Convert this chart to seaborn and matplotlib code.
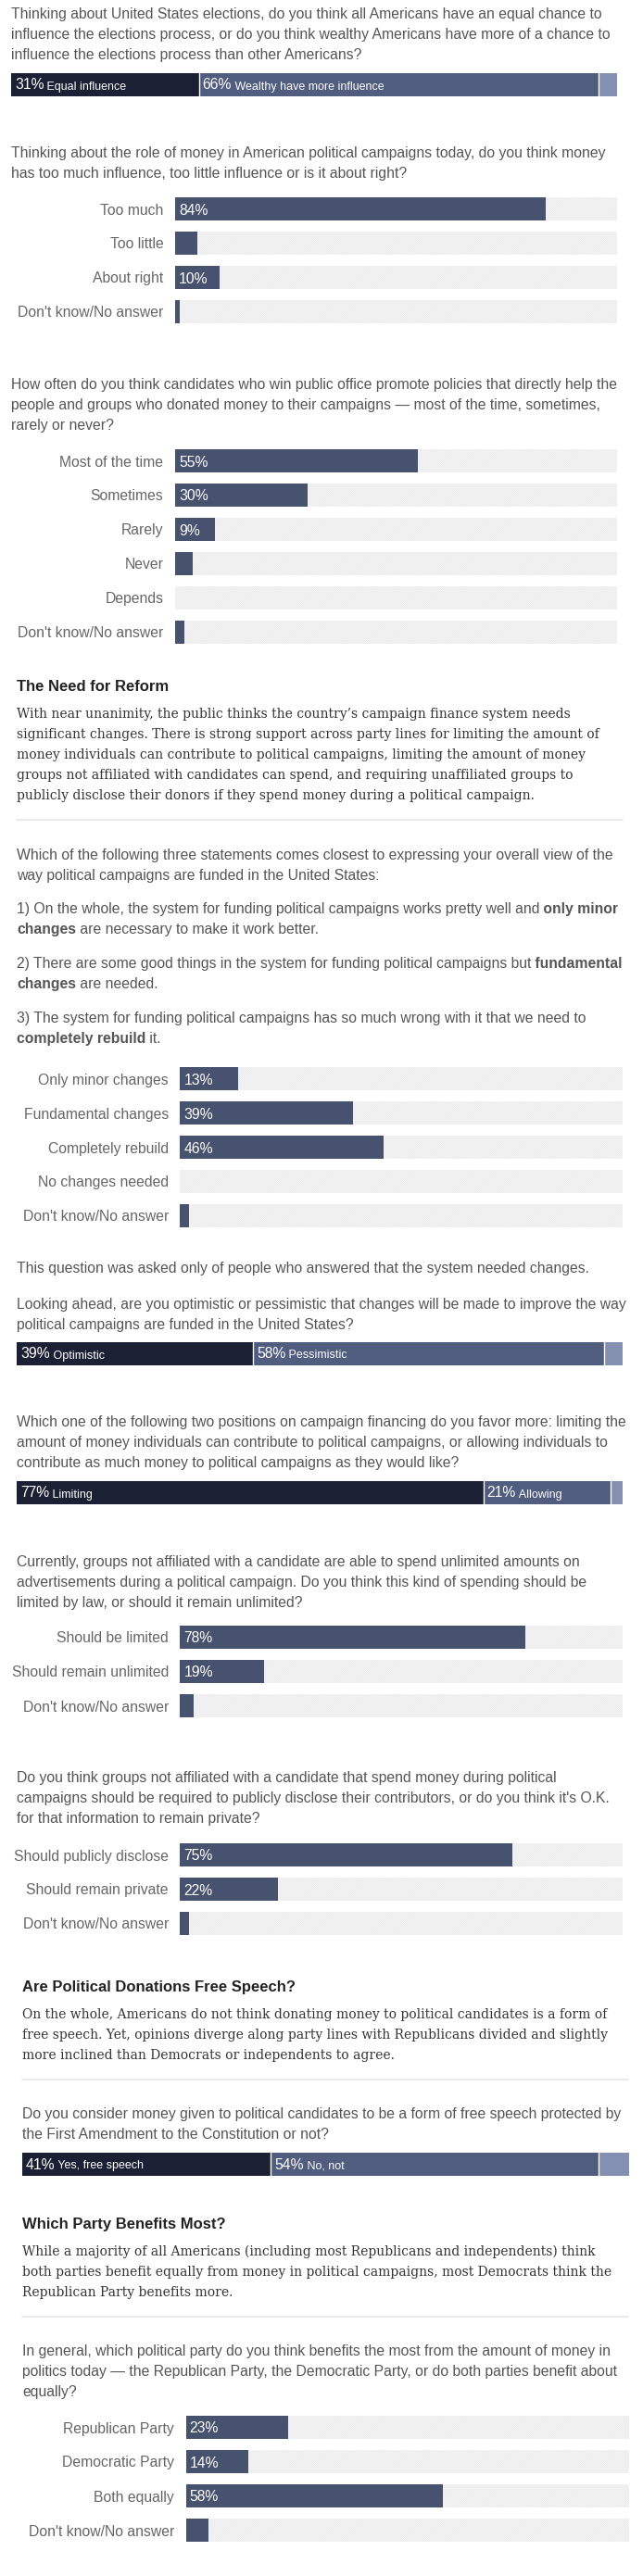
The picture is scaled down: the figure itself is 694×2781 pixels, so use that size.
import matplotlib
matplotlib.use("Agg")
import matplotlib.pyplot as plt
from matplotlib import font_manager
import pandas as pd
import seaborn as sns

W, H = 694, 2781

# ---- survey answers (percent) ----
q1_labels = ["Equal influence", "Wealthy have more influence", ""]
q1_values = [31, 66, 3]

q2_labels = ["Too much", "Too little", "About right", "Don't know/No answer"]
q2_values = [84, 5, 10, 1]

q3_labels = ["Most of the time", "Sometimes", "Rarely", "Never", "Depends",
             "Don't know/No answer"]
q3_values = [55, 30, 9, 4, 0, 2]

q4_labels = ["Only minor changes", "Fundamental changes", "Completely rebuild",
             "No changes needed", "Don't know/No answer"]
q4_values = [13, 39, 46, 0, 2]

q5_labels = ["Optimistic", "Pessimistic", ""]
q5_values = [39, 58, 3]

q6_labels = ["Limiting", "Allowing", ""]
q6_values = [77, 21, 2]

q7_labels = ["Should be limited", "Should remain unlimited", "Don't know/No answer"]
q7_values = [78, 19, 3]

q8_labels = ["Should publicly disclose", "Should remain private", "Don't know/No answer"]
q8_values = [75, 22, 2]

q9_labels = ["Yes, free speech", "No, not", ""]
q9_values = [41, 54, 5]

q10_labels = ["Republican Party", "Democratic Party", "Both equally", "Don't know/No answer"]
q10_values = [23, 14, 58, 5]

# ---- text ----
Q1_TEXT = ["Thinking about United States elections, do you think all Americans have an equal chance to",
           "influence the elections process, or do you think wealthy Americans have more of a chance to",
           "influence the elections process than other Americans?"]
Q2_TEXT = ["Thinking about the role of money in American political campaigns today, do you think money",
           "has too much influence, too little influence or is it about right?"]
Q3_TEXT = ["How often do you think candidates who win public office promote policies that directly help the",
           "people and groups who donated money to their campaigns \u2014 most of the time, sometimes,",
           "rarely or never?"]
HEAD1 = "The Need for Reform"
PARA1 = ["With near unanimity, the public thinks the country\u2019s campaign finance system needs",
         "significant changes. There is strong support across party lines for limiting the amount of",
         "money individuals can contribute to political campaigns, limiting the amount of money",
         "groups not affiliated with candidates can spend, and requiring unaffiliated groups to",
         "publicly disclose their donors if they spend money during a political campaign."]
Q4_TEXT = ["Which of the following three statements comes closest to expressing your overall view of the",
           "way political campaigns are funded in the United States:"]
STATEMENTS = [
    [[("1) On the whole, the system for funding political campaigns works pretty well and", False),
      (" only minor", True)],
     [("changes", True), (" are necessary to make it work better.", False)]],
    [[("2) There are some good things in the system for funding political campaigns but", False),
      (" fundamental", True)],
     [("changes", True), (" are needed.", False)]],
    [[("3) The system for funding political campaigns has so much wrong with it that we need to", False)],
     [("completely rebuild", True), (" it.", False)]],
]
NOTE = "This question was asked only of people who answered that the system needed changes."
Q5_TEXT = ["Looking ahead, are you optimistic or pessimistic that changes will be made to improve the way",
           "political campaigns are funded in the United States?"]
Q6_TEXT = ["Which one of the following two positions on campaign financing do you favor more: limiting the",
           "amount of money individuals can contribute to political campaigns, or allowing individuals to",
           "contribute as much money to political campaigns as they would like?"]
Q7_TEXT = ["Currently, groups not affiliated with a candidate are able to spend unlimited amounts on",
           "advertisements during a political campaign. Do you think this kind of spending should be",
           "limited by law, or should it remain unlimited?"]
Q8_TEXT = ["Do you think groups not affiliated with a candidate that spend money during political",
           "campaigns should be required to publicly disclose their contributors, or do you think it's O.K.",
           "for that information to remain private?"]
HEAD2 = "Are Political Donations Free Speech?"
PARA2 = ["On the whole, Americans do not think donating money to political candidates is a form of",
         "free speech. Yet, opinions diverge along party lines with Republicans divided and slightly",
         "more inclined than Democrats or independents to agree."]
Q9_TEXT = ["Do you consider money given to political candidates to be a form of free speech protected by",
           "the First Amendment to the Constitution or not?"]
HEAD3 = "Which Party Benefits Most?"
PARA3 = ["While a majority of all Americans (including most Republicans and independents) think",
         "both parties benefit equally from money in political campaigns, most Democrats think the",
         "Republican Party benefits more."]
Q10_TEXT = ["In general, which political party do you think benefits the most from the amount of money in",
            "politics today \u2014 the Republican Party, the Democratic Party, or do both parties benefit about",
            "equally?"]

# ---- style ----
sns.set_theme(style="white")
installed = {f.name for f in font_manager.fontManager.ttflist}
SANS = "Liberation Sans Narrow" if "Liberation Sans Narrow" in installed else "Liberation Sans"
SERIF = "DejaVu Serif"
plt.rcParams["font.family"] = [SANS, "DejaVu Sans"]
plt.rcParams["hatch.linewidth"] = 0.5

TEXT_C = "#555555"
LABEL_C = "#666666"
BODY_C = "#333333"
HEAD_C = "#222222"
BAR_C = "#47536e"
TRACK_C = "#f9f9f9"
STRIPE_C = "#e8e8e8"
SPLIT_C = ["#1b2035", "#505d7f", "#8390b1"]
RULE_C = "#e6e6e6"

Q_PT = 11.3
SMALL_PT = 9
HEAD_PT = 12
BODY_PT = 10
ROW, BAR = 37, 25
STEP = 22

fig = plt.figure(figsize=(W / 100, H / 100), dpi=100)
fig.patch.set_facecolor("white")
bg = fig.add_axes([0, 0, 1, 1])
bg.set_xlim(0, W)
bg.set_ylim(H, 0)
bg.axis("off")
bg.set_zorder(5)   # text layer above the chart axes
renderer = fig.canvas.get_renderer()


def px_axes(x0, y0, x1, y1):
    return fig.add_axes([x0 / W, 1 - y1 / H, (x1 - x0) / W, (y1 - y0) / H])


def write_run(x, y, parts, **kw):
    for s, extra in parts:
        t = bg.text(x, y, s, ha="left", va="baseline", **{**kw, **extra})
        x += t.get_window_extent(renderer).width
    return x


def write_lines(x, y, texts, step=STEP, **kw):
    for i, s in enumerate(texts):
        bg.text(x, y + i * step, s, ha="left", va="baseline", **kw)


def question(x, y, texts):
    write_lines(x, y, texts, fontsize=Q_PT, color=TEXT_C)


def section(x, y, head, para, rule_y, rule_x1):
    bg.text(x, y, head, ha="left", va="baseline", fontsize=HEAD_PT,
            fontweight="bold", color=HEAD_C)
    write_lines(x, y + 29, para, fontsize=BODY_PT, color=BODY_C, family=SERIF)
    bg.plot([x, rule_x1], [rule_y, rule_y], color=RULE_C, lw=1.2)


def clean(ax):
    ax.set_xlabel("")
    ax.set_ylabel("")
    ax.set_xticks([])
    for sp in ax.spines.values():
        sp.set_visible(False)


def option_chart(labels, values, x0, x1, y_top):
    n = len(labels)
    ax = px_axes(x0, y_top, x1, y_top + (n - 1) * ROW + BAR)
    df = pd.DataFrame({"answer": labels, "pct": values, "track": [100] * n})
    w = BAR / ROW
    sns.barplot(data=df, x="track", y="answer", orient="h", width=w, color=TRACK_C,
                saturation=1, errorbar=None, hatch="/" * 18, edgecolor=STRIPE_C,
                linewidth=0, ax=ax)
    sns.barplot(data=df, x="pct", y="answer", orient="h", width=w, color=BAR_C,
                saturation=1, errorbar=None, linewidth=0, ax=ax)
    for i, v in enumerate(values):
        if v >= 9:
            ax.annotate(f"{v}%", (0, i), xytext=(4, 0), textcoords="offset pixels",
                        color="white", fontsize=Q_PT, va="center_baseline", ha="left")
    ax.set_xlim(0, 100)
    ax.set_ylim(n - 1 + w / 2, -w / 2)
    ax.tick_params(axis="y", length=0, pad=9, labelsize=Q_PT, labelcolor=LABEL_C)
    clean(ax)
    return ax


def split_chart(labels, values, x0, x1, y_top):
    ax = px_axes(x0, y_top, x1, y_top + BAR)
    start = 0
    starts = []
    for v, c in zip(values, SPLIT_C):
        sns.barplot(x=[v], y=["all"], orient="h", left=[start], width=1, color=c,
                    saturation=1, errorbar=None, linewidth=0, ax=ax)
        starts.append(start)
        start += v
    for s in starts[1:]:
        ax.axvline(s, color="white", lw=1)
    ax.set_xlim(0, 100)
    ax.set_ylim(0.5, -0.5)
    ax.set_yticks([])
    clean(ax)
    # value labels (percent + answer text)
    yb = y_top + BAR / 2 + 5
    for lab, v, s in zip(labels, values, starts):
        if lab:
            xp = x0 + s / 100 * (x1 - x0) + 4
            write_run(xp, yb, [(f"{v}%", {"fontsize": Q_PT}),
                               (" " + lab, {"fontsize": SMALL_PT})], color="white")
    return ax


# ---- layout (pixel positions) ----
A_TXT, A_BAR0, A_BAR1 = 12, 189, 665.5
B_TXT, B_BAR0, B_BAR1 = 18, 194.5, 672
C_TXT, C_BAR0, C_BAR1 = 24, 200.7, 678.5

question(A_TXT, 20, Q1_TEXT)
split_chart(q1_labels, q1_values, A_TXT, A_BAR1, 79)

question(A_TXT, 170, Q2_TEXT)
option_chart(q2_labels, q2_values, A_BAR0, A_BAR1, 213)

question(A_TXT, 420, Q3_TEXT)
option_chart(q3_labels, q3_values, A_BAR0, A_BAR1, 485)

section(B_TXT, 746, HEAD1, PARA1, 885, B_BAR1)

question(B_TXT, 928, Q4_TEXT)
y = 986
for stmt in STATEMENTS:
    for line in stmt:
        write_run(B_TXT, y, [(s, {"fontweight": "bold"} if b else {}) for s, b in line],
                  fontsize=Q_PT, color=TEXT_C)
        y += STEP
    y += 15
option_chart(q4_labels, q4_values, B_BAR0, B_BAR1, 1152)

question(B_TXT, 1374, [NOTE])

question(B_TXT, 1413, Q5_TEXT)
split_chart(q5_labels, q5_values, B_TXT, B_BAR1, 1449)

question(B_TXT, 1540, Q6_TEXT)
split_chart(q6_labels, q6_values, B_TXT, B_BAR1, 1599)

question(B_TXT, 1691, Q7_TEXT)
option_chart(q7_labels, q7_values, B_BAR0, B_BAR1, 1755)

question(B_TXT, 1924, Q8_TEXT)
option_chart(q8_labels, q8_values, B_BAR0, B_BAR1, 1990)

section(C_TXT, 2150, HEAD2, PARA2, 2245, C_BAR1)

question(C_TXT, 2287, Q9_TEXT)
split_chart(q9_labels, q9_values, C_TXT, C_BAR1, 2324)

section(C_TXT, 2406, HEAD3, PARA3, 2501, C_BAR1)

question(C_TXT, 2543, Q10_TEXT)
option_chart(q10_labels, q10_values, C_BAR0, C_BAR1, 2608)

fig.savefig("out.png", dpi=100, facecolor="white")
